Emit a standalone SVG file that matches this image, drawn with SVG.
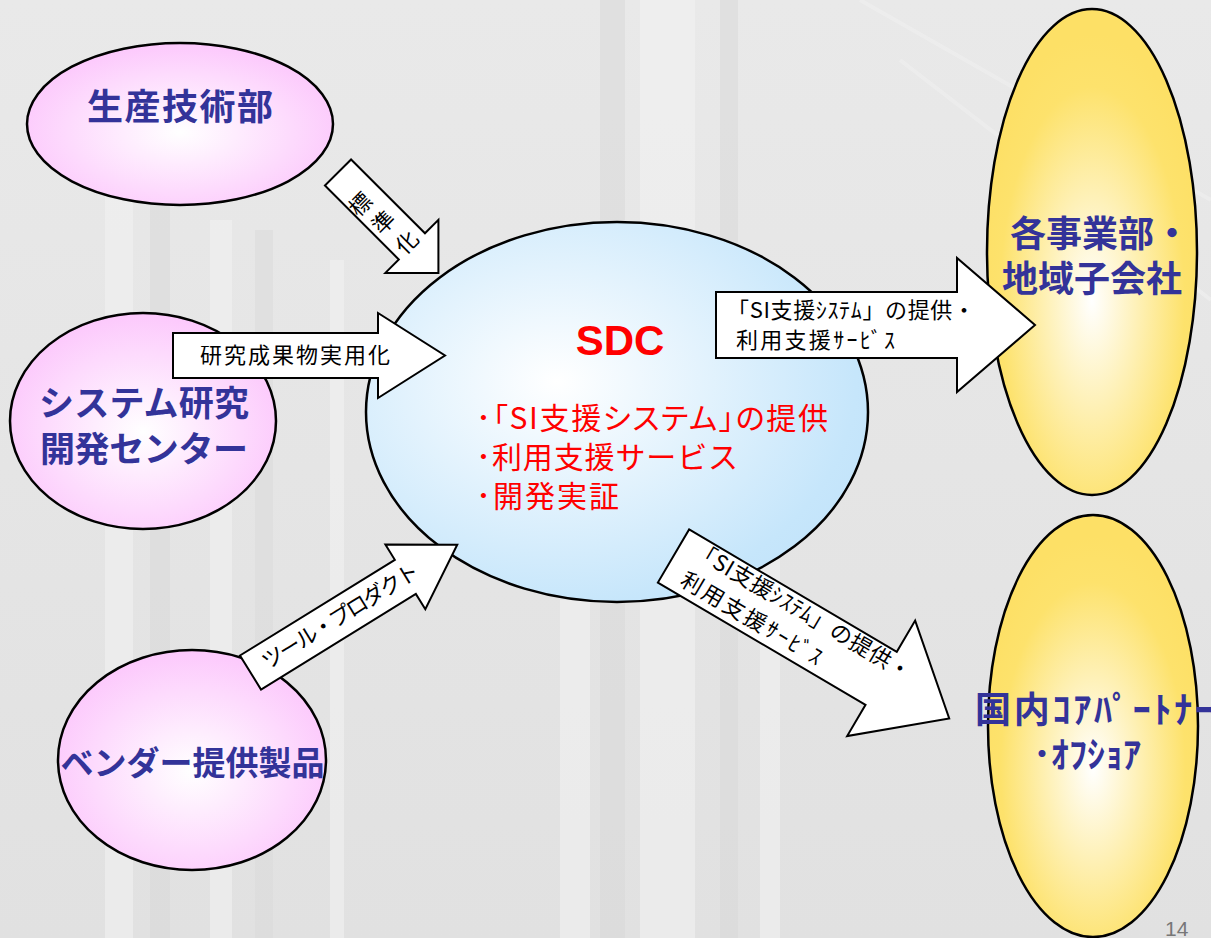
<svg xmlns="http://www.w3.org/2000/svg" width="1211" height="938" viewBox="0 0 1211 938">
<defs>
<radialGradient id="gPink" cx="0.5" cy="0.55" r="0.55">
<stop offset="0" stop-color="#ffffff"/>
<stop offset="1" stop-color="#fcc8fc"/>
</radialGradient>
<radialGradient id="gBlue" cx="0.38" cy="0.42" r="0.7">
<stop offset="0" stop-color="#ffffff"/>
<stop offset="0.85" stop-color="#c6e6fb"/>
<stop offset="1" stop-color="#c2e3fa"/>
</radialGradient>
<radialGradient id="gYel" cx="0.5" cy="0.6" r="0.55">
<stop offset="0" stop-color="#ffffff"/>
<stop offset="0.8" stop-color="#fde26c"/>
<stop offset="1" stop-color="#fde066"/>
</radialGradient>
<linearGradient id="gBg" x1="0" y1="0" x2="0" y2="1">
<stop offset="0" stop-color="#e9e9e9"/>
<stop offset="1" stop-color="#e1e1e1"/>
</linearGradient>
<style>
.ell{stroke:#000;stroke-width:2.5}
.lbl{font-family:"Noto Sans CJK JP","Noto Sans",sans-serif;font-weight:bold;fill:#333399}
.arrow{fill:#fff;stroke:#000;stroke-width:2;stroke-linejoin:miter}
.at{font-family:"Noto Sans CJK JP","Noto Sans",sans-serif;fill:#000;font-size:22px}
.palt{font-feature-settings:"palt"}
.red{font-family:"Noto Sans CJK JP","Noto Sans",sans-serif;fill:#ff0000;font-size:30px}
</style>
</defs>

<g id="background">
<rect width="1211" height="938" fill="url(#gBg)"/>
<g fill="#f2f2f2" opacity="0.6">
<rect x="105" y="180" width="28" height="758"/>
<rect x="210" y="220" width="22" height="718"/>
<rect x="330" y="260" width="14" height="678"/>
<rect x="640" y="0" width="55" height="938"/>
<rect x="560" y="600" width="30" height="338"/>
<rect x="760" y="560" width="20" height="378"/>
</g>
<g fill="#d9d9d9" opacity="0.5">
<rect x="150" y="200" width="20" height="738"/>
<rect x="255" y="230" width="18" height="708"/>
<rect x="600" y="0" width="25" height="938"/>
<rect x="720" y="0" width="18" height="938"/>
</g>
<g stroke="#f3f3f3" stroke-width="4" opacity="0.45" fill="none">
<line x1="860" y1="0" x2="1211" y2="200"/>
<line x1="900" y1="60" x2="1211" y2="300"/>
</g>
</g>

<g id="node-seisan">
<ellipse class="ell" cx="180" cy="124" rx="153" ry="81" fill="url(#gPink)"/>
<text class="lbl" x="180" y="120" font-size="36" text-anchor="middle" textLength="186">生産技術部</text>
</g>

<g id="node-system">
<ellipse class="ell" cx="143" cy="421" rx="133" ry="108" fill="url(#gPink)"/>
<text class="lbl" x="144" y="416" font-size="35" text-anchor="middle" textLength="210">システム研究</text>
<text class="lbl" x="144" y="462" font-size="35" text-anchor="middle" textLength="208">開発センター</text>
</g>

<g id="node-vendor">
<ellipse class="ell" cx="192" cy="760" rx="134" ry="110" fill="url(#gPink)"/>
<text class="lbl" x="192.5" y="775" font-size="33" text-anchor="middle" textLength="264">ベンダー提供製品</text>
</g>

<g id="node-sdc">
<ellipse class="ell" cx="617" cy="412" rx="251" ry="190" fill="url(#gBlue)"/>
<text x="620" y="355" font-family="'Liberation Sans',Arial,sans-serif" font-weight="bold" font-size="42" fill="#ff0000" text-anchor="middle">SDC</text>
<text class="red palt" x="476" y="429" textLength="352">･「SI支援システム」の提供</text>
<text class="red" x="476" y="468" textLength="262">･利用支援サービス</text>
<text class="red" x="476" y="507" textLength="143">･開発実証</text>
</g>

<g id="node-jigyobu">
<ellipse class="ell" cx="1092" cy="252" rx="105" ry="243" fill="url(#gYel)"/>
<text class="lbl" x="1010" y="247" font-size="36">各事業部・</text>
<text class="lbl" x="1002" y="292" font-size="36">地域子会社</text>
</g>

<g id="node-partner">
<ellipse class="ell" cx="1093" cy="726" rx="105" ry="211" fill="url(#gYel)"/>
<text class="lbl" x="975" y="723" font-size="36" textLength="238">国内ｺｱﾊﾟｰﾄﾅｰ</text>
<text class="lbl" x="1033" y="768" font-size="36">･ｵﾌｼｮｱ</text>
</g>

<g id="connectors">
<g id="arrow-hyojunka">
<path class="arrow" transform="translate(338,172.5) rotate(45)" d="M0,-18.5 H104.5 V-37.5 L142,0 L104.5,37.5 V18.5 H0 Z"/>
<text class="at" font-size="21" text-anchor="middle" dominant-baseline="central" transform="translate(359,203) rotate(-45)">標</text>
<text class="at" font-size="21" text-anchor="middle" dominant-baseline="central" transform="translate(382,221) rotate(-45)">準</text>
<text class="at" font-size="21" text-anchor="middle" dominant-baseline="central" transform="translate(405.5,241) rotate(-45)">化</text>
</g>
<g id="arrow-kenkyu">
<path class="arrow" d="M173,333 H378 V313 L445,355.5 L378,398 V378 H173 Z"/>
<text class="at" x="295" y="363" font-size="23" text-anchor="middle" textLength="190">研究成果物実用化</text>
</g>
<g id="arrow-tool">
<g transform="translate(250.5,672.5) rotate(-31.7)">
<path class="arrow" d="M0,-20 H182 V-38 L243,0 L182,38 V20 H0 Z"/>
<text class="at" x="16" y="7" font-size="21" textLength="180">ツール・プロダクト</text>
</g>
</g>
<g id="arrow-jigyobu">
<path class="arrow" d="M716,292 H957 V258 L1035,325 L957,392 V358 H716 Z"/>
<text class="at" x="727" y="318" textLength="248">「SI支援ｼｽﾃﾑ」の提供・</text>
<text class="at" x="736" y="348" textLength="159">利用支援ｻｰﾋﾞｽ</text>
</g>
<g id="arrow-partner">
<g transform="translate(673.5,556) rotate(30.5)">
<path class="arrow" d="M0,-30.8 H241 V-67 L320,0 L241,67 V30.8 H0 Z"/>
<text class="at" x="15" y="-10" textLength="248">「SI支援ｼｽﾃﾑ」の提供・</text>
<text class="at" x="19" y="22" textLength="160">利用支援ｻｰﾋﾞｽ</text>
</g>
</g>
</g>

<text id="page-number" x="1165" y="936" font-family="'Liberation Sans',Arial,sans-serif" font-size="21" fill="#777777">14</text>
</svg>
